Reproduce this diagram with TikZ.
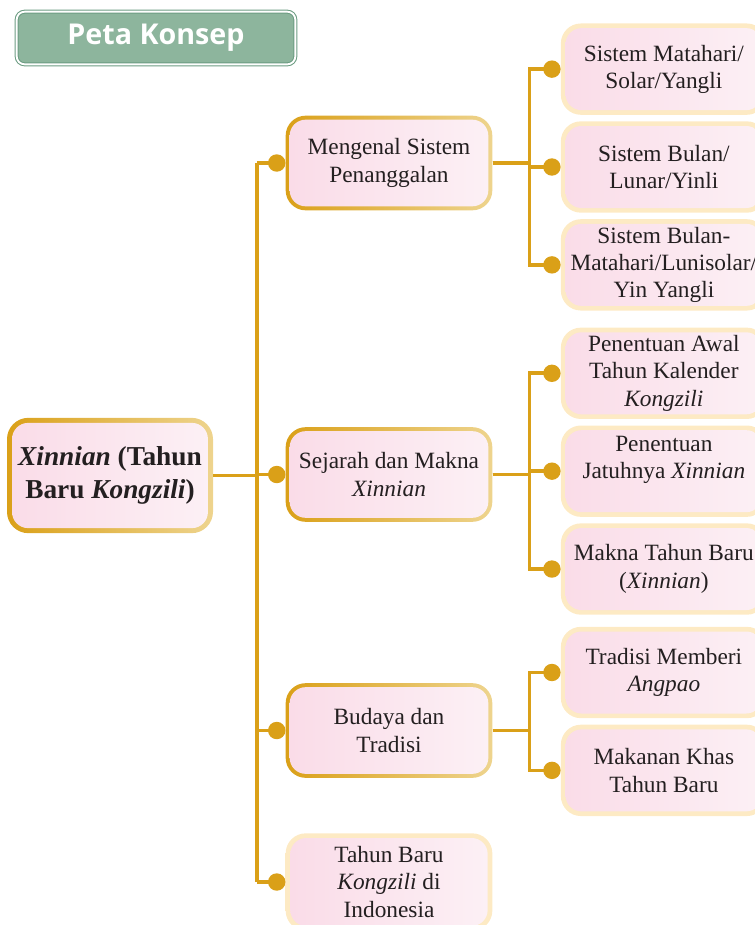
\documentclass[tikz,border=0pt]{standalone}
\usepackage{fontspec}
\setmainfont{Liberation Serif}
\newfontfamily\titlefont{Open Sans}
\usepackage{xcolor}
\usepackage{tikz}
\usetikzlibrary{positioning,arrows.meta}
\definecolor{linegold}{RGB}{218,160,24}
\definecolor{palegold}{RGB}{238,212,142}
\definecolor{leafcream}{RGB}{253,234,196}
\definecolor{pinkleft}{RGB}{250,220,232}
\definecolor{pinkright}{RGB}{252,240,245}
\definecolor{titlegreen}{RGB}{141,181,157}
\definecolor{titleedge}{RGB}{108,156,130}
\definecolor{textdark}{RGB}{35,31,32}

\begin{document}
\begin{tikzpicture}[
    x=0.75pt, y=-0.75pt,
    framed/.style n args={3}{rounded corners=15pt, inner sep=0pt, align=center, text=textdark,
        path picture={
            \shade[left color=#1, right color=#2] (path picture bounding box.south west) rectangle (path picture bounding box.north east);
            \shade[left color=pinkleft, right color=pinkright, rounded corners=12pt]
                ([shift={(#3,#3)}]path picture bounding box.south west) rectangle ([shift={(-#3,-#3)}]path picture bounding box.north east);
        }},
    rootbox/.style={framed={linegold}{palegold}{3.8pt}, rounded corners=16pt, minimum width=154.5pt, minimum height=86.5pt, font=\fontsize{20.5}{25}\selectfont\bfseries},
    topic/.style={framed={linegold}{palegold}{3pt}, minimum width=155pt, minimum height=71pt, font=\fontsize{17.5}{21}\selectfont},
    leaf/.style={framed={leafcream}{leafcream}{3.5pt}, minimum width=154.5pt, minimum height=68.5pt, font=\fontsize{17.5}{20.5}\selectfont},
    titlebox/.style={rectangle, rounded corners=6pt, fill=titlegreen, draw=titleedge, line width=0.8pt, double=white, double distance=1.4pt, text=white, minimum width=209pt, minimum height=39.5pt, font=\titlefont\fontsize{21.5}{24}\selectfont\bfseries},
    trunkline/.style={linegold, line width=2.8pt},
    branch/.style={linegold, line width=2.8pt, -{Circle[length=13pt]}}
]
\useasboundingbox (0,0) rectangle (755,925);
\clip (0,0) rectangle (755,925);

\node[titlebox] (title) at (156,38) {Peta Konsep};

% root and first level
\node[rootbox] (root) at (110,475.5) {\textit{Xinnian} (Tahun\\Baru \textit{Kongzili})};
\node[topic] (menge) at (389,163) {Mengenal Sistem\\Penanggalan};
\node[topic] (sejarah) at (389,474.5) {Sejarah dan Makna\\\textit{Xinnian}};
\node[topic] (budaya) at (389,730.5) {Budaya dan\\Tradisi};
\node[leaf, minimum width=155pt, minimum height=73pt] (indo) at (389,882) {Tahun Baru\\\textit{Kongzili} di\\Indonesia};
\coordinate (trunk) at (257,0);

% leaves
\node[leaf, right=51pt of menge, yshift=-3pt] (lunar) {Sistem Bulan/\\Lunar/Yinli};
\node[leaf, above=4.5pt of lunar] (solar) {Sistem Matahari/\\Solar/Yangli};
\node[leaf, below=4.5pt of lunar] (lunisolar) {Sistem Bulan-\\Matahari/Lunisolar/\\Yin Yangli};
\node[leaf, right=51pt of sejarah, yshift=2.5pt] (jatuh) {Penentuan\\Jatuhnya \textit{Xinnian}\\\mbox{}};
\node[leaf, above=4.5pt of jatuh] (awal) {Penentuan Awal\\Tahun Kalender\\\textit{Kongzili}};
\node[leaf, below=4.5pt of jatuh] (makna) {Makna Tahun Baru\\(\textit{Xinnian})};
\node[leaf, right=51pt of budaya, yshift=43.5pt] (angpao) {Tradisi Memberi\\\textit{Angpao}};
\node[leaf, below=4.5pt of angpao] (makanan) {Makanan Khas\\Tahun Baru};

% connectors
\draw[trunkline] (root.east) -- (root.east -| trunk);
\draw[trunkline] (trunk |- menge.west) -- (trunk |- indo.west);
\foreach \n in {menge,sejarah,budaya,indo}
    \draw[branch] (trunk |- \n.west) -- (\n.west);
\foreach \p/\c in {menge/solar,menge/lunar,menge/lunisolar,sejarah/awal,sejarah/jatuh,sejarah/makna,budaya/angpao,budaya/makanan}
    \draw[branch] (\p.east) -- ++(37,0) |- (\c.west);

\end{tikzpicture}
\end{document}
